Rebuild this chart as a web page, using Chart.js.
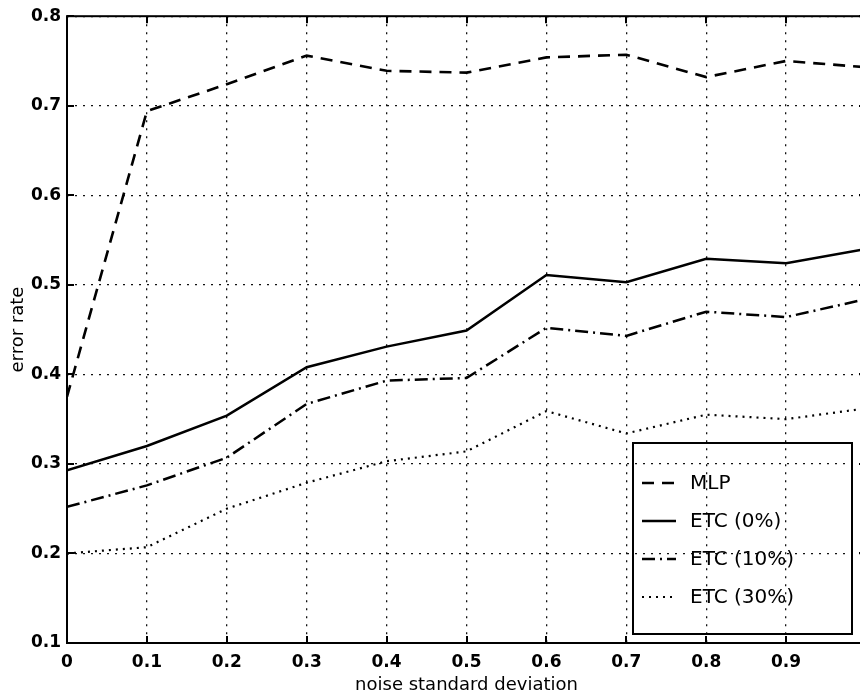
<!DOCTYPE html>
<html>
<head>
<meta charset="utf-8">
<script src="https://cdn.jsdelivr.net/npm/chart.js@4.4.1/dist/chart.umd.min.js"></script>
<style>
  html, body { margin: 0; padding: 0; background: #fff; overflow: hidden; }
  #wrap { width: 860px; height: 696px; overflow: hidden; position: relative; }
  canvas { display: block; }
</style>
</head>
<body>
<div id="wrap"><canvas id="c" width="868" height="696"></canvas></div>
<script>
// Noise standard deviation (x) and error rates per classifier
const noiseLevels = [0, 0.1, 0.2, 0.3, 0.4, 0.5, 0.6, 0.7, 0.8, 0.9, 1.0];
const mlpErr   = [0.375, 0.694, 0.724, 0.756, 0.739, 0.737, 0.754, 0.757, 0.732, 0.750, 0.743];
const etc0Err  = [0.293, 0.320, 0.354, 0.408, 0.431, 0.449, 0.511, 0.503, 0.529, 0.524, 0.540];
const etc10Err = [0.252, 0.276, 0.307, 0.367, 0.393, 0.396, 0.452, 0.443, 0.470, 0.464, 0.484];
const etc30Err = [0.200, 0.207, 0.250, 0.279, 0.303, 0.314, 0.359, 0.334, 0.355, 0.350, 0.362];
const seriesLabels = ['MLP', 'ETC (0%)', 'ETC (10%)', 'ETC (30%)'];

const xTickValues = [0, 0.1, 0.2, 0.3, 0.4, 0.5, 0.6, 0.7, 0.8, 0.9];
const yTickValues = [0.1, 0.2, 0.3, 0.4, 0.5, 0.6, 0.7, 0.8];

const toPoints = (ys) => noiseLevels.map((x, i) => ({ x: x, y: ys[i] }));
const fmt = (v) => (v === 0 ? '0' : Number(v).toFixed(1));

// Box frame with inward tick marks on all four sides
const framePlugin = {
  id: 'frame',
  afterDatasetsDraw(chart) {
    const { ctx, chartArea: { left, right, top, bottom }, scales: { x, y } } = chart;
    const tl = 7;
    ctx.save();
    ctx.strokeStyle = '#000';
    ctx.lineWidth = 2;
    ctx.setLineDash([]);
    ctx.strokeRect(left, top, right - left, bottom - top);
    ctx.beginPath();
    x.ticks.forEach(t => {
      const px = Math.round(x.getPixelForValue(t.value));
      ctx.moveTo(px, bottom); ctx.lineTo(px, bottom - tl);
      ctx.moveTo(px, top); ctx.lineTo(px, top + tl);
    });
    y.ticks.forEach(t => {
      const py = Math.round(y.getPixelForValue(t.value));
      ctx.moveTo(left, py); ctx.lineTo(left + tl, py);
      ctx.moveTo(right, py); ctx.lineTo(right - tl, py);
    });
    ctx.stroke();
    ctx.restore();
  }
};

// Boxed legend in the lower right of the plot (see-through, like the axes)
const boxLegendPlugin = {
  id: 'boxLegend',
  afterDraw(chart, args, opts) {
    const { ctx } = chart;
    ctx.save();
    ctx.strokeStyle = '#000';
    ctx.lineWidth = 2;
    ctx.setLineDash([]);
    ctx.strokeRect(opts.left, opts.top, opts.right - opts.left, opts.bottom - opts.top);
    ctx.font = opts.font;
    ctx.fillStyle = '#000';
    ctx.textBaseline = 'middle';
    ctx.textAlign = 'left';
    chart.data.datasets.forEach((ds, i) => {
      const yy = opts.firstRow + i * opts.rowGap;
      ctx.beginPath();
      ctx.lineWidth = ds.borderWidth;
      ctx.setLineDash(ds.borderDash || []);
      ctx.moveTo(opts.sampleX0, yy);
      ctx.lineTo(opts.sampleX1, yy);
      ctx.stroke();
      ctx.setLineDash([]);
      ctx.fillText(ds.label, opts.textX, yy + 1);
    });
    ctx.restore();
  }
};

const gridCommon = { color: '#111', lineWidth: 1.3, drawTicks: false };
const borderCommon = { display: false, dash: [2, 6] };
const tickFont = { family: 'DejaVu Sans', weight: 'bold', size: 17 };
const titleFont = { family: 'DejaVu Sans', size: 18 };

new Chart(document.getElementById('c'), {
  type: 'line',
  data: {
    datasets: [
      { label: seriesLabels[0], data: toPoints(mlpErr),   borderColor: '#000', borderWidth: 2.6, borderDash: [12, 8] },
      { label: seriesLabels[1], data: toPoints(etc0Err),  borderColor: '#000', borderWidth: 2.5, borderDash: [] },
      { label: seriesLabels[2], data: toPoints(etc10Err), borderColor: '#000', borderWidth: 2.5, borderDash: [13, 5, 2, 5] },
      { label: seriesLabels[3], data: toPoints(etc30Err), borderColor: '#000', borderWidth: 2.2, borderDash: [2, 5] }
    ]
  },
  options: {
    responsive: false,
    animation: false,
    devicePixelRatio: 1,
    layout: { padding: { top: 13, right: 2, bottom: 0, left: 0 } },
    elements: { point: { radius: 0 }, line: { tension: 0, fill: false } },
    plugins: {
      legend: { display: false },
      tooltip: { enabled: false },
      boxLegend: {
        left: 633, top: 443, right: 852, bottom: 634,
        firstRow: 483, rowGap: 38,
        sampleX0: 642, sampleX1: 676, textX: 690,
        font: '20px "DejaVu Sans"'
      }
    },
    scales: {
      x: {
        type: 'linear', position: 'bottom', min: 0, max: 1,
        afterBuildTicks: (s) => { s.ticks = xTickValues.map(v => ({ value: v })); },
        afterFit: (s) => { s.height = 53; },
        grid: gridCommon, border: borderCommon,
        ticks: { color: '#000', font: tickFont, padding: 9, maxRotation: 0, callback: fmt },
        title: { display: true, text: 'noise standard deviation', color: '#000', font: titleFont, padding: { top: 0, bottom: 0 } }
      },
      y: {
        type: 'linear', position: 'left', min: 0.1, max: 0.8,
        afterBuildTicks: (s) => { s.ticks = yTickValues.map(v => ({ value: v })); },
        afterFit: (s) => { s.width = 67; },
        grid: gridCommon, border: borderCommon,
        ticks: { color: '#000', font: tickFont, padding: 6, callback: fmt },
        title: { display: true, text: 'error rate', color: '#000', font: titleFont, padding: { top: 8, bottom: 0 } }
      }
    }
  },
  plugins: [framePlugin, boxLegendPlugin]
});
</script>
</body>
</html>
